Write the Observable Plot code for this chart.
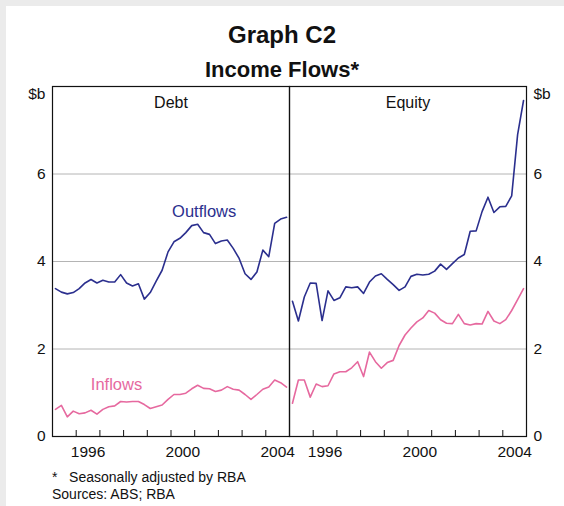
<!DOCTYPE html>
<html><head><meta charset="utf-8">
<script src="https://cdn.jsdelivr.net/npm/d3@7"></script>
<script src="https://cdn.jsdelivr.net/npm/@observablehq/plot@0.6"></script>
<style>
body{margin:0;background:#ebebeb;font-family:"Liberation Sans",Arial,sans-serif;width:564px;height:506px;overflow:hidden;position:relative;}
#card{position:absolute;left:6px;top:6px;width:558px;height:500px;background:#fff;}
.t{position:absolute;left:0;width:564px;text-align:center;font-weight:bold;color:#111;}
.foot{position:absolute;left:52px;font-size:14px;color:#111;}
#chart{position:absolute;left:0;top:80px;}
</style></head><body>
<div id="card"></div>
<div class="t" style="top:21px;font-size:24px">Graph C2</div>
<div class="t" style="top:57px;font-size:22px">Income Flows*</div>
<div id="chart"></div>
<div class="foot" style="top:469px">*&nbsp;&nbsp; Seasonally adjusted by RBA</div>
<div class="foot" style="top:486px">Sources: ABS; RBA</div>
<script>
// Quarterly data, 1995 Q1 – 2004 Q4 ($b)
const panels = ["Debt", "Equity"];
const series = ["Outflows", "Inflows"];
const startYear = 1995;
const debtOutflows = [3.38, 3.30, 3.26, 3.29, 3.38, 3.51, 3.59, 3.51, 3.57, 3.53,
  3.53, 3.70, 3.51, 3.44, 3.49, 3.14, 3.29, 3.55, 3.80, 4.22,
  4.45, 4.53, 4.66, 4.82, 4.85, 4.66, 4.62, 4.41, 4.47, 4.49,
  4.30, 4.07, 3.72, 3.59, 3.76, 4.26, 4.11, 4.87, 4.97, 5.01];
const debtInflows = [0.62, 0.71, 0.45, 0.58, 0.52, 0.54, 0.60, 0.51, 0.62, 0.68,
  0.70, 0.80, 0.79, 0.80, 0.80, 0.73, 0.64, 0.68, 0.72, 0.85,
  0.96, 0.96, 0.99, 1.09, 1.17, 1.10, 1.09, 1.03, 1.06, 1.14,
  1.08, 1.06, 0.96, 0.85, 0.96, 1.08, 1.13, 1.29, 1.23, 1.13];
const equityOutflows = [3.09, 2.64, 3.19, 3.51, 3.50, 2.65, 3.33, 3.11, 3.17, 3.42,
  3.40, 3.42, 3.27, 3.53, 3.67, 3.72, 3.59, 3.47, 3.34, 3.42,
  3.66, 3.71, 3.69, 3.71, 3.78, 3.94, 3.82, 3.95, 4.08, 4.16,
  4.69, 4.70, 5.14, 5.47, 5.12, 5.25, 5.26, 5.50, 6.90, 7.68];
const equityInflows = [0.76, 1.29, 1.29, 0.90, 1.20, 1.14, 1.16, 1.43, 1.48, 1.48,
  1.57, 1.71, 1.37, 1.93, 1.71, 1.56, 1.69, 1.74, 2.08, 2.32,
  2.48, 2.62, 2.71, 2.88, 2.82, 2.67, 2.59, 2.58, 2.79, 2.58,
  2.55, 2.58, 2.57, 2.86, 2.64, 2.58, 2.67, 2.88, 3.13, 3.38];
const yTicks = [0, 2, 4, 6];
const yearTicks = [1996, 1997, 1998, 1999, 2000, 2001, 2002, 2003, 2004];
const yearLabels = [1996, 2000, 2004];
const labelPanel = ["Debt", "Debt"];
const labelYear = [2001.4, 1997.7];
const labelValue = [5.13, 1.19];

const colors = ["#2b2f8e", "#e6699f"];

const rows = [];
const add = (panel, s, arr) => arr.forEach((v, k) => rows.push({panel, series: s, t: startYear + (k + 0.5) / 4, value: v}));
add("Debt", "Outflows", debtOutflows);
add("Debt", "Inflows", debtInflows);
add("Equity", "Outflows", equityOutflows);
add("Equity", "Inflows", equityInflows);

const labels = series.map((s, i) => ({panel: labelPanel[i], series: s, t: labelYear[i], value: labelValue[i]}));

const chart = Plot.plot({
  width: 564, height: 386,
  marginTop: 6, marginBottom: 30, marginLeft: 52, marginRight: 38,
  fx: {domain: panels, padding: 0, axis: null},
  x: {domain: [1995, 2005], axis: null},
  y: {domain: [0, 8], axis: null},
  color: {domain: series, range: colors},
  style: {fontFamily: "'Liberation Sans', Arial, sans-serif", fontSize: "15.5px", color: "#111", background: "transparent"},
  marks: [
    Plot.gridY(yTicks.slice(1), {stroke: "#b4b4b4", strokeOpacity: 1, strokeWidth: 1}),
    Plot.line(rows, {fx: "panel", x: "t", y: "value", z: "series", stroke: "series", strokeWidth: 1.6}),
    Plot.frame({stroke: "#111", strokeWidth: 1.2}),
    Plot.axisX(yearTicks, {anchor: "bottom", tickSize: 6, dy: -6, tickFormat: () => "", stroke: "#111", label: null}),
    Plot.axisX(yearLabels.map(y => y + 0.5), {anchor: "bottom", tickSize: 0, tickPadding: 9, tickFormat: d => String(Math.floor(d)), label: null}),
    Plot.axisY(yTicks, {anchor: "left", tickSize: 0, tickPadding: 7, label: null}),
    Plot.axisY(yTicks, {anchor: "right", tickSize: 0, tickPadding: 7, label: null}),
    Plot.axisY([8], {anchor: "left", tickSize: 0, tickPadding: 7, dy: 8, tickFormat: () => "$b", label: null}),
    Plot.axisY([8], {anchor: "right", tickSize: 0, tickPadding: 7, dy: 8, tickFormat: () => "$b", label: null}),
    Plot.text(panels, {fx: d => d, text: d => d, frameAnchor: "top", dy: 10, lineAnchor: "top", fontSize: 16, fill: "#111"}),
    Plot.text(labels, {fx: "panel", x: "t", y: "value", text: "series", fill: "series", fontSize: 16.5})
  ]
});
document.getElementById("chart").appendChild(chart);
</script>
</body></html>
